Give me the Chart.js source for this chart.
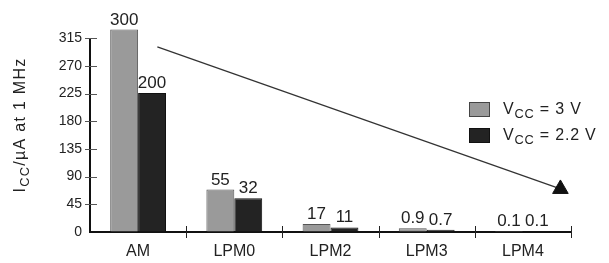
<!DOCTYPE html>
<html>
<head>
<meta charset="utf-8">
<script src="https://cdn.jsdelivr.net/npm/chart.js@4.4.1/dist/chart.umd.min.js"></script>
<style>
  html, body { margin: 0; padding: 0; background: #fff; }
  #wrap { width: 609px; height: 263px; }
</style>
</head>
<body>
<div id="wrap"><canvas id="chart"></canvas></div>
<script>
// data
const modes = ['AM', 'LPM0', 'LPM2', 'LPM3', 'LPM4'];
const current3V = [329, 69, 13, 6, 1.5];
const current22V = [226, 55, 7.5, 3.7, 1.5];
const labels3V = ['300', '55', '17', '0.9', '0.1'];
const labels22V = ['200', '32', '11', '0.7', '0.1'];
const yTicks = [0, 45, 90, 135, 180, 225, 270, 315];
const trendX = [0.7, 4.89];
const trendY = [301, 70];

const FONT = '"Liberation Sans", Arial, sans-serif';
const GRAY = '#9a9a9a';
const DARK = '#232323';
const NONE = 'rgba(0,0,0,0)';

// text with "sub" parts lowered and smaller
function drawParts(ctx, parts, y, size, spacing) {
  let w = 0;
  parts.forEach(p => {
    ctx.font = (p.sub ? size * 0.8 : size) + 'px ' + FONT;
    ctx.letterSpacing = spacing + 'px';
    p.w = ctx.measureText(p.t).width;
    w += p.w;
  });
  return { w, draw: (x0) => {
    let cx = x0;
    parts.forEach(p => {
      ctx.font = (p.sub ? size * 0.8 : size) + 'px ' + FONT;
      ctx.letterSpacing = spacing + 'px';
      ctx.fillText(p.t, cx, p.sub ? y + 4 : y);
      cx += p.w;
    });
    ctx.letterSpacing = '0px';
  }};
}

const extras = {
  id: 'extras',
  afterDatasetsDraw(chart) {
    const ctx = chart.ctx;
    const x = chart.scales.x;
    const y = chart.scales.y;
    const x2 = chart.scales.x2;
    const left = chart.chartArea.left;
    const base = y.getPixelForValue(0);
    ctx.save();

    // y axis line 0..315, ticks crossing it
    ctx.strokeStyle = '#111';
    ctx.lineWidth = 2;
    ctx.beginPath();
    ctx.moveTo(left, base + 1);
    ctx.lineTo(left, y.getPixelForValue(315));
    ctx.stroke();
    ctx.strokeStyle = '#555';
    ctx.lineWidth = 1;
    ctx.beginPath();
    yTicks.slice(1).forEach(v => {
      const py = Math.round(y.getPixelForValue(v)) + 0.5;
      ctx.moveTo(left - 5, py);
      ctx.lineTo(left + 7, py);
    });
    ctx.stroke();

    // category boundary ticks crossing x axis
    const step = x.getPixelForValue(1) - x.getPixelForValue(0);
    ctx.strokeStyle = '#222';
    ctx.beginPath();
    for (let k = 1; k <= modes.length; k++) {
      const px = Math.round(x.getPixelForValue(k - 1) + step / 2) + 0.5;
      ctx.moveTo(px, base - 6);
      ctx.lineTo(px, base + 6);
    }
    ctx.stroke();

    // trend arrow
    const pts = trendX.map((v, i) => ({ x: x2.getPixelForValue(v), y: y.getPixelForValue(trendY[i]) }));
    ctx.strokeStyle = '#333';
    ctx.lineWidth = 1.2;
    ctx.beginPath();
    ctx.moveTo(pts[0].x, pts[0].y);
    ctx.lineTo(pts[1].x, pts[1].y);
    ctx.stroke();
    ctx.fillStyle = '#111';
    ctx.strokeStyle = '#111';
    ctx.lineWidth = 1;
    Chart.helpers.drawPoint(ctx, { pointStyle: 'triangle', radius: 9, rotation: 0, borderWidth: 1 }, pts[1].x, pts[1].y);

    // value labels
    ctx.fillStyle = '#222';
    ctx.textAlign = 'center';
    ctx.textBaseline = 'alphabetic';
    ctx.font = '17px ' + FONT;
    [labels3V, labels22V].forEach((lbls, di) => {
      chart.getDatasetMeta(di).data.forEach((el, i) => {
        ctx.fillText(lbls[i], el.x, el.y - 5);
      });
    });

    // legend
    ctx.textAlign = 'left';
    const items = [
      { fill: GRAY, stroke: '#444', v: '3 V', top: 102 },
      { fill: DARK, stroke: '#111', v: '2.2 V', top: 128 }
    ];
    items.forEach(it => {
      ctx.fillStyle = it.fill;
      ctx.fillRect(469, it.top, 21, 15);
      ctx.strokeStyle = it.stroke;
      ctx.lineWidth = 1;
      ctx.strokeRect(469.5, it.top + 0.5, 20, 14);
      ctx.fillStyle = '#222';
      const t = drawParts(ctx, [{ t: 'V' }, { t: 'CC', sub: true }, { t: ' = ' + it.v }], it.top + 12, 16, 0.8);
      t.draw(503);
    });

    // y axis title
    ctx.translate(20, 125);
    ctx.rotate(-Math.PI / 2);
    ctx.fillStyle = '#222';
    const title = drawParts(ctx, [{ t: 'I' }, { t: 'CC', sub: true }, { t: '/\u00b5A at 1 MHz' }], 5, 16, 1.3);
    title.draw(-title.w / 2);
    ctx.restore();
  }
};

new Chart(document.getElementById('chart'), {
  type: 'bar',
  data: {
    labels: modes,
    datasets: [
      {
        label: 'VCC = 3 V',
        data: current3V,
        backgroundColor: GRAY,
        borderColor: '#555',
        borderWidth: 1,
        categoryPercentage: 0.58,
        barPercentage: 1
      },
      {
        label: 'VCC = 2.2 V',
        data: current22V,
        backgroundColor: DARK,
        borderColor: '#111',
        borderWidth: 1,
        categoryPercentage: 0.58,
        barPercentage: 1
      }
    ]
  },
  options: {
    responsive: true,
    maintainAspectRatio: false,
    animation: false,
    devicePixelRatio: 1,
    layout: { padding: { top: 29, right: 38, left: 0, bottom: 0 } },
    plugins: {
      legend: { display: false },
      tooltip: { enabled: false }
    },
    scales: {
      x: {
        offset: true,
        grid: { drawOnChartArea: false, offset: true, tickLength: 6, color: NONE },
        border: { color: '#111', width: 2 },
        ticks: { color: '#222', padding: 4, font: { family: FONT, size: 16 } },
        afterFit: s => { s.height = 31; }
      },
      x2: { type: 'linear', min: 0, max: 5, offset: false, display: false },
      y: {
        min: 0,
        max: 330,
        afterBuildTicks: s => { s.ticks = yTicks.map(v => ({ value: v })); },
        grid: { drawOnChartArea: false, tickLength: 4, color: NONE },
        border: { display: false },
        ticks: { color: '#222', padding: 4, font: { family: FONT, size: 14 } },
        afterFit: s => { s.width = 90; }
      }
    }
  },
  plugins: [extras]
});
</script>
</body>
</html>
